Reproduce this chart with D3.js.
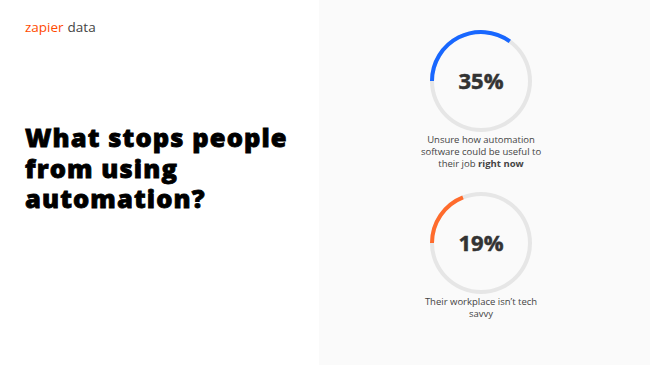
<!DOCTYPE html>
<html>
<head>
<meta charset="utf-8">
<script src="https://cdn.jsdelivr.net/npm/d3@7"></script>
<style>
  html, body { margin: 0; padding: 0; background: #fff; }
  svg { display: block; font-family: "Open Sans", sans-serif; }
</style>
</head>
<body>
<div id="chart"></div>
<script>
'use strict';

// data
var shares = [35, 19];
var labels = [
  [[{t: "Unsure how automation"}], [{t: "software could be useful to"}], [{t: "their job "}, {t: "right now", b: true}]],
  [[{t: "Their workplace isn\u2019t tech"}], [{t: "savvy"}]]
];
var colours = ['#1867ff', '#ff6b2c'];
var titleLines = ["What stops people", "from using", "automation?"];

function makeGauges(containerSelector) {
  var width = 650;
  var height = 365;
  var radius = 49;
  var thickness = 4;

  var svg = d3.select(containerSelector)
              .append('svg')
              .attr('width', width)
              .attr('height', height);

  svg.append('rect')
     .attr('x', 319)
     .attr('y', 0)
     .attr('width', width - 319)
     .attr('height', height)
     .attr('fill', '#fafafa');

  // logo
  var logo = svg.append('text')
     .attr('x', 25)
     .attr('y', 32)
     .style('font-size', '13.5px');
  logo.append('tspan').attr('fill', '#ff4a00').text('zapier');
  logo.append('tspan').attr('fill', '#444').attr('dx', 4).text('data');

  // title (extra bold imitated with a thin stroke)
  svg.append('text')
     .attr('x', 25)
     .attr('y', 147)
     .attr('fill', '#000')
     .attr('stroke', '#000')
     .attr('stroke-width', 0.8)
     .style('font-size', '25.5px')
     .style('font-weight', 800)
     .style('letter-spacing', '1.1px')
     .selectAll('tspan')
     .data(titleLines)
     .enter().append('tspan')
       .attr('x', 25)
       .attr('dy', function(d, i) { return i === 0 ? 0 : 30.7; })
       .text(function(d) { return d; });

  var y = d3.scaleBand().domain(d3.range(shares.length)).range([0, 324]);
  var angle = d3.scaleLinear().domain([0, 100]).range([-Math.PI / 2, 1.5 * Math.PI]);

  var arc = d3.arc()
              .innerRadius(radius - thickness / 2)
              .outerRadius(radius + thickness / 2)
              .startAngle(-Math.PI / 2);

  var gauge = svg.selectAll('.gauge')
                 .data(shares)
                 .enter().append('g')
                 .attr('class', 'gauge')
                 .attr('transform', function(d, i) { return 'translate(481,' + (y(i) + 81) + ')'; });

  gauge.append('path')
       .attr('d', arc.endAngle(1.5 * Math.PI)())
       .attr('fill', '#e6e6e6');

  gauge.append('path')
       .attr('d', function(d) { return arc.endAngle(angle(d))(); })
       .attr('fill', function(d, i) { return colours[i]; });

  gauge.append('text')
       .attr('y', 7.5)
       .attr('text-anchor', 'middle')
       .attr('fill', '#333')
       .attr('stroke', '#333')
       .attr('stroke-width', 0.5)
       .style('font-size', '22px')
       .style('font-weight', 700)
       .text(function(d) { return d + '%'; });

  gauge.each(function(d, i) {
    var t = d3.select(this).append('text')
              .attr('text-anchor', 'middle')
              .attr('fill', '#444')
              .style('font-size', '9.5px');
    labels[i].forEach(function(line, j) {
      line.forEach(function(part, k) {
        var ts = t.append('tspan').text(part.t);
        if (k === 0) ts.attr('x', 0).attr('y', 62 + j * 12);
        if (part.b) ts.style('font-weight', 700);
      });
    });
  });
}

makeGauges('#chart');
</script>
</body>
</html>
